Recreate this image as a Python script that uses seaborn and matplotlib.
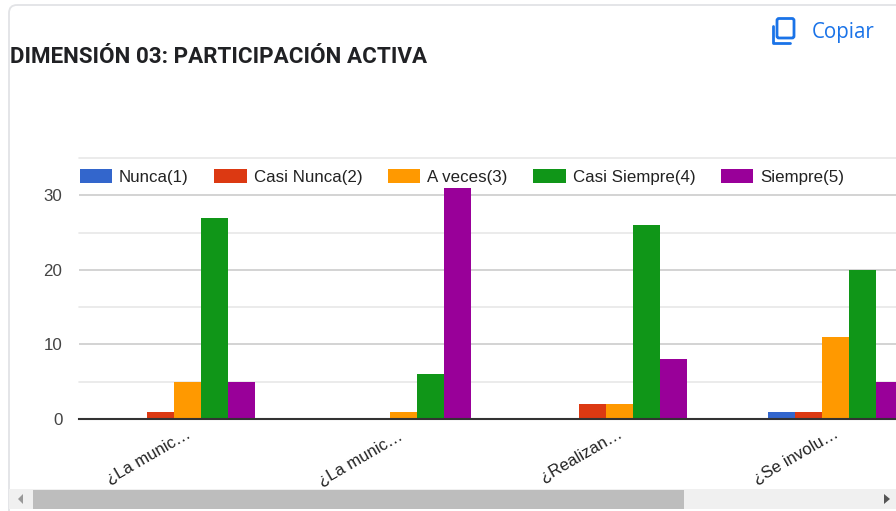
import matplotlib
matplotlib.use('Agg')
import matplotlib.pyplot as plt
import pandas as pd
import seaborn as sns
from matplotlib.patches import FancyBboxPatch, Polygon, Rectangle
from matplotlib.transforms import ScaledTranslation

questions = ['¿La munic…', '¿La munic… ', '¿Realizan…', '¿Se involu…']
answers = ['Nunca(1)', 'Casi Nunca(2)', 'A veces(3)', 'Casi Siempre(4)', 'Siempre(5)']
colors = ['#3366cc', '#dc3912', '#ff9900', '#109618', '#990099']

nunca = [0, 0, 0, 1]
casi_nunca = [1, 0, 2, 1]
a_veces = [5, 1, 2, 11]
casi_siempre = [27, 6, 26, 20]
siempre = [5, 31, 8, 5]

W, H = 896, 511


def build_frame():
    rows = []
    for answer, values in zip(answers, [nunca, casi_nunca, a_veces, casi_siempre, siempre]):
        for question, value in zip(questions, values):
            rows.append({'question': question, 'answer': answer, 'count': value})
    return pd.DataFrame(rows)


def draw_page(fig):
    # page furniture, in screen pixels
    page = fig.add_axes([0, 0, 1, 1], zorder=3)
    page.set(xlim=(0, W), ylim=(H, 0))
    page.axis('off')
    page.patch.set_alpha(0)
    page.add_patch(FancyBboxPatch((9, 5), 920, 520, boxstyle='round,pad=0,rounding_size=8',
                                  fc='none', ec='#e2e3e6', lw=1.3))
    page.text(10, 63, 'DIMENSIÓN 03: PARTICIPACIÓN ACTIVA', family='Roboto', weight='bold',
              fontsize=16.1, color='#202124')
    page.text(812, 38, 'Copiar', family='Open Sans', fontsize=14.8, color='#1a73e8')
    page.add_patch(FancyBboxPatch((777, 18.5), 17, 19.5, boxstyle='round,pad=0,rounding_size=2',
                                  fc='none', ec='#1a73e8', lw=2))
    page.plot([772.5, 772.5, 790], [26, 43, 43], color='#1a73e8', lw=2)
    page.add_patch(Rectangle((9, 489), 887, 20, fc='#f0f0f0', ec='none'))
    page.add_patch(Rectangle((33, 490), 651, 19, fc='#bdbdbd', ec='none'))
    page.add_patch(Polygon([(23, 494), (23, 504), (18, 499)], fc='#999999', ec='none'))
    page.add_patch(Polygon([(884, 494), (884, 504), (890, 499)], fc='#555555', ec='none'))


def main():
    sns.set_theme(style='white')
    plt.rcParams['font.family'] = ['Liberation Sans', 'DejaVu Sans']

    fig = plt.figure(figsize=(W / 100, H / 100), dpi=100)
    ax = fig.add_axes([79 / W, (H - 419) / H, (W - 79) / W, (419 - 158) / H])

    sns.barplot(data=build_frame(), x='question', y='count', hue='answer', palette=colors,
                width=0.625, gap=0, saturation=1, linewidth=0, ax=ax)

    ax.set_xlim(-0.502, 3.281)
    ax.set_ylim(0, 35)
    ax.set(xlabel='', ylabel='')
    ax.set_yticks([0, 10, 20, 30])
    ax.set_yticks([5, 15, 25, 35], minor=True)
    ax.grid(axis='y', which='major', color='#cccccc', lw=1.2)
    ax.grid(axis='y', which='minor', color='#e8e8e8', lw=1.2)
    for tick in ax.yaxis.get_minor_ticks():
        tick.gridline.set_clip_on(False)
    ax.set_axisbelow(True)
    ax.tick_params(axis='y', which='both', length=0, pad=12, labelsize=12.2, labelcolor='#444444')
    ax.tick_params(axis='x', length=0, pad=5, labelsize=12, labelcolor='#222222')
    shift = ScaledTranslation(-2 / 100, 0, fig.dpi_scale_trans)
    for label in ax.get_xticklabels():
        label.set(rotation=30, ha='right', rotation_mode='anchor')
        label.set_transform(label.get_transform() + shift)
    sns.despine(ax=ax, left=True)
    ax.spines['bottom'].set(color='#333333', lw=1.5)
    ax.spines['bottom'].set_zorder(5)

    ax.legend(loc='center left', bbox_to_anchor=(79.5 / W, (H - 176.6) / H),
              bbox_transform=fig.transFigure, ncol=5, frameon=False, title=None,
              fontsize=12.2, borderpad=0, borderaxespad=0, handlelength=1.9, handleheight=0.95,
              handletextpad=0.42, columnspacing=1.52, labelcolor='#222222')

    draw_page(fig)
    fig.savefig('out.png', dpi=100)


if __name__ == "__main__":
    main()
